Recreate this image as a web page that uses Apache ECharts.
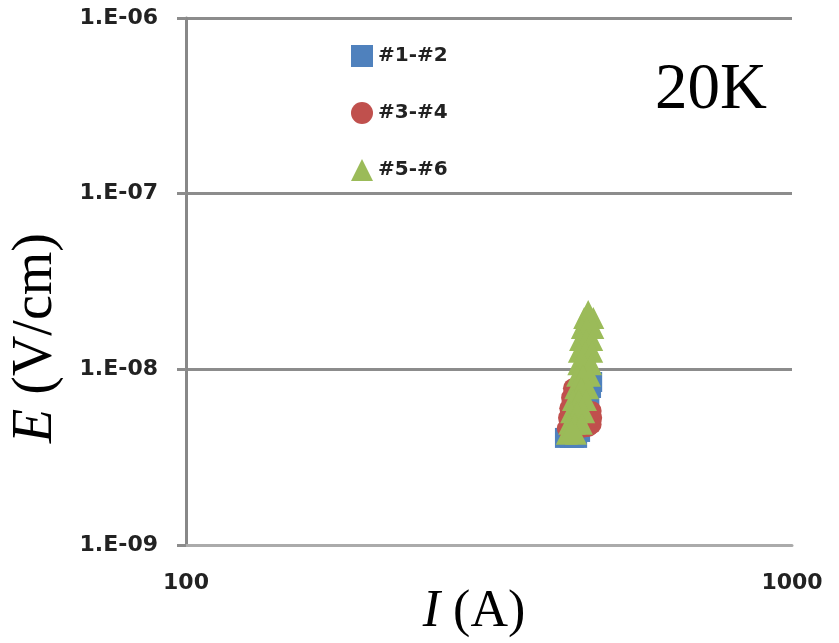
<!DOCTYPE html>
<html>
<head>
<meta charset="utf-8">
<script src="https://cdn.jsdelivr.net/npm/echarts@6/dist/echarts.min.js"></script>
<style>
  html, body { margin: 0; padding: 0; background: #fff; }
  #chart { width: 839px; height: 643px; }
</style>
</head>
<body>
<div id="chart"></div>
<script>
// Electric field vs. current at 20 K for three voltage-tap pairs
const seriesNames = ['#1-#2', '#3-#4', '#5-#6'];

const current12 = [422, 430, 437, 442, 447, 452, 456, 459, 463, 466, 468];
const field12 = [4.07e-9, 4.07e-9, 4.07e-9, 4.07e-9, 4.4e-9, 4.88e-9, 5.5e-9, 6.27e-9, 7.05e-9, 7.83e-9, 8.47e-9];

const current34 = [425, 427, 429, 432, 435, 444, 452, 461, 467, 468, 467];
const field34 = [4.6e-9, 5.3e-9, 6.0e-9, 6.9e-9, 7.8e-9, 4.6e-9, 4.65e-9, 4.7e-9, 4.85e-9, 5.3e-9, 5.8e-9];

const current56 = [461, 454, 470, 450, 459, 470, 447, 457, 468, 445, 456, 468, 444, 454, 466,
                   442, 452, 464, 439, 449, 461, 435, 445, 457, 432, 442, 454, 429, 438, 450,
                   425, 432, 440];
const field56 = [2.15e-8, 1.96e-8, 1.96e-8, 1.72e-8, 1.72e-8, 1.72e-8, 1.47e-8, 1.47e-8, 1.47e-8,
                 1.26e-8, 1.26e-8, 1.26e-8, 1.07e-8, 1.07e-8, 1.07e-8, 9.2e-9, 9.2e-9, 9.2e-9,
                 7.8e-9, 7.8e-9, 7.8e-9, 6.7e-9, 6.7e-9, 6.7e-9, 5.7e-9, 5.7e-9, 5.7e-9,
                 4.9e-9, 4.9e-9, 4.9e-9, 4.3e-9, 4.5e-9, 4.3e-9];

const xTickValues = [100, 1000];
const xTickLabels = ['100', '1000'];
const yTickValues = [1e-9, 1e-8, 1e-7, 1e-6];
const yTickLabels = ['1.E-09', '1.E-08', '1.E-07', '1.E-06'];

const pairs = (xs, ys) => xs.map((x, i) => [x, ys[i]]);
const nearestLabel = (v, values, labels) => {
  let best = 0;
  values.forEach((t, i) => {
    if (Math.abs(Math.log10(t) - Math.log10(v)) < Math.abs(Math.log10(values[best]) - Math.log10(v))) best = i;
  });
  return labels[best];
};

const tickFont = { fontFamily: 'DejaVu Sans', fontWeight: 'bold', fontSize: 22, color: '#222' };

const chart = echarts.init(document.getElementById('chart'), null, { renderer: 'canvas' });
chart.setOption({
  animation: false,
  backgroundColor: '#fff',
  grid: { left: 186, right: 47, top: 18, bottom: 98, containLabel: false },
  xAxis: {
    type: 'log', logBase: 10, min: 100, max: 1000,
    axisLine: { show: true, lineStyle: { color: '#ababab', width: 3 } },
    axisTick: { show: false },
    splitLine: { show: false },
    axisLabel: Object.assign({ margin: 27, formatter: v => nearestLabel(v, xTickValues, xTickLabels) }, tickFont)
  },
  yAxis: {
    type: 'log', logBase: 10, min: 1e-9, max: 1e-6,
    axisLine: { show: true, lineStyle: { color: '#888', width: 3 } },
    axisTick: { show: true, length: 9, lineStyle: { color: '#8c8c8c', width: 3 } },
    splitLine: { show: true, showMinLine: false, lineStyle: { color: '#8c8c8c', width: 3 } },
    axisLabel: Object.assign({ margin: 28, formatter: v => nearestLabel(v, yTickValues, yTickLabels) }, tickFont)
  },
  legend: {
    orient: 'vertical', left: 346, top: 40,
    itemWidth: 22, itemHeight: 22, itemGap: 35,
    textStyle: { fontFamily: 'DejaVu Sans', fontWeight: 'bold', fontSize: 20, color: '#222' },
    data: seriesNames
  },
  series: [
    { name: seriesNames[0], type: 'scatter', symbol: 'rect', symbolSize: 20,
      itemStyle: { color: '#4f81bd', opacity: 1 }, data: pairs(current12, field12) },
    { name: seriesNames[1], type: 'scatter', symbol: 'circle', symbolSize: 20,
      itemStyle: { color: '#c0504d', opacity: 1 }, data: pairs(current34, field34) },
    { name: seriesNames[2], type: 'scatter', symbol: 'triangle', symbolSize: 22,
      itemStyle: { color: '#9bbb59', opacity: 1 }, data: pairs(current56, field56) }
  ],
  graphic: [
    { type: 'text', x: 711, y: 91,
      style: { text: '20K', font: '65px "Liberation Serif"', fill: '#000', align: 'center', verticalAlign: 'middle' } },
    { type: 'text', x: 474, y: 612,
      style: { text: '{i|I} (A)', font: '52px "Liberation Serif"', fill: '#000', align: 'center', verticalAlign: 'middle',
               rich: { i: { fontStyle: 'italic', fontFamily: 'Liberation Serif', fontSize: 52 } } } },
    { type: 'text', x: 36, y: 338, rotation: Math.PI / 2,
      style: { text: '{i|E} (V/cm)', font: '56px "Liberation Serif"', fill: '#000', align: 'center', verticalAlign: 'middle',
               rich: { i: { fontStyle: 'italic', fontFamily: 'Liberation Serif', fontSize: 56 } } } }
  ]
});
</script>
</body>
</html>
